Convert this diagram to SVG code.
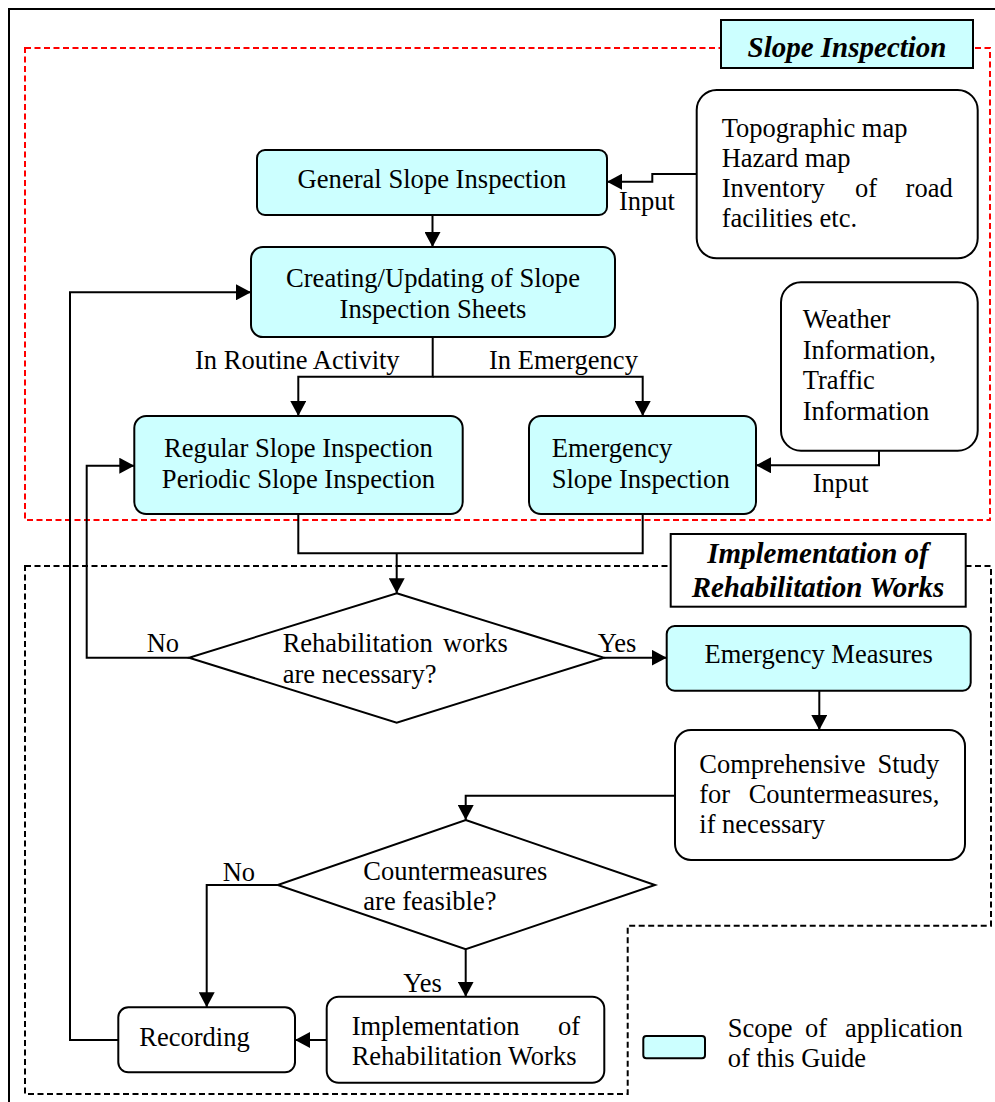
<svg xmlns="http://www.w3.org/2000/svg" width="995" height="1102" viewBox="0 0 995 1102">
<style>
text{font-family:"Liberation Serif","Times New Roman",serif;fill:#000}
.b{font-size:26.6px}
.m{font-size:26.5px}
.l{font-size:26.5px}
.h{font-size:29px;font-weight:bold;font-style:italic}
.c{fill:#ccffff;stroke:#000;stroke-width:2}
.w{fill:#fff;stroke:#000;stroke-width:2}
.k{fill:none;stroke:#000;stroke-width:2}
.a{marker-end:url(#ar)}
</style>
<defs>
<marker id="ar" markerUnits="userSpaceOnUse" markerWidth="16" markerHeight="16" refX="15" refY="8" orient="auto">
<path d="M0,0 L15,8 L0,16 z" fill="#000"/>
</marker>
</defs>
<rect width="995" height="1102" fill="#fff"/>
<path d="M9,1102 V9 H995" fill="none" stroke="#000" stroke-width="2"/>
<g id="region-slope-inspection">
<rect x="25" y="48" width="965" height="472" fill="none" stroke="#ff0000" stroke-width="2" stroke-dasharray="6,3.5"/>
<rect x="721" y="20" width="252" height="48" class="c"/>
<text class="h" x="847" y="57" text-anchor="middle">Slope Inspection</text>
</g>
<g id="region-rehabilitation">
<path d="M25,566 H991 V925.7 H627.7 V1094 H25 Z" fill="none" stroke="#000" stroke-width="2" stroke-dasharray="6,3.5"/>
<rect x="670.7" y="534" width="295" height="72.7" class="w"/>
<text class="h" x="818" y="563.3" text-anchor="middle">Implementation of</text>
<text class="h" x="818" y="596.7" text-anchor="middle">Rehabilitation Works</text>
</g>
<g id="connectors">
<path class="k a" d="M696.7,174 H652.3 V181.7 H607"/>
<path class="k a" d="M432.5,215 V247"/>
<path class="k a" d="M432.7,337 V376.7 H298.3 V416"/>
<path class="k a" d="M432.7,376.7 H642.7 V416"/>
<path class="k a" d="M879,450.7 V465.3 H756"/>
<path class="k" d="M298.3,514 V553.3 H642.7 V514"/>
<path class="k a" d="M396.7,553.3 V593.3"/>
<path class="k a" d="M189,657.7 H86.7 V465.7 H134.3"/>
<path class="k a" d="M604,657.7 H666.7"/>
<path class="k a" d="M819.3,690.7 V730"/>
<path class="k a" d="M675,795.7 H465.7 V820"/>
<path class="k a" d="M277.7,885 H206.7 V1007.3"/>
<path class="k a" d="M465.7,949.3 V996.7"/>
<path class="k a" d="M326.7,1040 H295"/>
<path class="k a" d="M118.3,1040 H70 V292.3 H251"/>
<text class="l" x="619" y="210">Input</text>
<text class="l" x="195" y="369">In Routine Activity</text>
<text class="l" x="489" y="369">In Emergency</text>
<text class="l" x="812.7" y="492.3">Input</text>
<text class="l" x="146.7" y="652.3">No</text>
<text class="l" x="597.7" y="651.7">Yes</text>
<text class="l" x="222.7" y="881">No</text>
<text class="l" x="403.3" y="991.7">Yes</text>
</g>
<g id="node-general">
<rect x="257" y="150" width="350" height="65" rx="8" class="c"/>
<text class="b" x="432" y="188" text-anchor="middle">General Slope Inspection</text>
</g>
<g id="node-input1">
<rect x="696.7" y="90" width="281" height="168.3" rx="20" class="w"/>
<text class="m" x="721.7" y="136.7">Topographic map</text>
<text class="m" x="721.7" y="166.7">Hazard map</text>
<text class="m" y="196.7"><tspan x="721.7">Inventory</tspan><tspan x="855">of</tspan><tspan x="905.6">road</tspan></text>
<text class="m" x="721.7" y="226.7">facilities etc.</text>
</g>
<g id="node-creating">
<rect x="251" y="247" width="364" height="90" rx="12" class="c"/>
<text class="b" x="433" y="286.7" text-anchor="middle">Creating/Updating of Slope</text>
<text class="b" x="433" y="317.7" text-anchor="middle">Inspection Sheets</text>
</g>
<g id="node-weather">
<rect x="781" y="282.3" width="196.7" height="168.4" rx="20" class="w"/>
<text class="m" x="802.7" y="328.3">Weather</text>
<text class="m" x="802.7" y="359">Information,</text>
<text class="m" x="802.7" y="389.3">Traffic</text>
<text class="m" x="802.7" y="420">Information</text>
</g>
<g id="node-regular">
<rect x="134.3" y="416" width="328.4" height="98" rx="12" class="c"/>
<text class="b" x="298.5" y="456.7" text-anchor="middle">Regular Slope Inspection</text>
<text class="b" x="298.5" y="487.7" text-anchor="middle">Periodic Slope Inspection</text>
</g>
<g id="node-emergency">
<rect x="529" y="416" width="227" height="98" rx="12" class="c"/>
<text class="b" x="551.7" y="456.7">Emergency</text>
<text class="b" x="551.7" y="487.7">Slope Inspection</text>
</g>
<g id="node-decision1">
<polygon points="396.7,593.3 604,657.7 396.7,722.7 189,657.7" class="w"/>
<text class="m" y="652.3"><tspan x="282.7">Rehabilitation</tspan><tspan x="443">works</tspan></text>
<text class="m" x="282.7" y="683.3">are necessary?</text>
</g>
<g id="node-emergency-measures">
<rect x="666.7" y="626" width="304" height="64.7" rx="8" class="c"/>
<text class="m" x="818.7" y="663.3" text-anchor="middle">Emergency Measures</text>
</g>
<g id="node-comprehensive">
<rect x="675" y="730" width="290" height="130" rx="16" class="w"/>
<text class="m" y="772.7"><tspan x="699.3">Comprehensive</tspan><tspan x="877.4">Study</tspan></text>
<text class="m" y="802.7"><tspan x="699.3">for</tspan><tspan x="748.7">Countermeasures,</tspan></text>
<text class="m" x="699.3" y="832.7">if necessary</text>
</g>
<g id="node-decision2">
<polygon points="465.7,820 655,885 465.7,949.3 277.7,885" class="w"/>
<text class="m" x="363.3" y="880">Countermeasures</text>
<text class="m" x="363.3" y="910">are feasible?</text>
</g>
<g id="node-recording">
<rect x="118.3" y="1007.3" width="176.7" height="65" rx="10" class="w"/>
<text class="m" x="139.3" y="1045.7">Recording</text>
</g>
<g id="node-implementation">
<rect x="326.7" y="996.7" width="277.6" height="86" rx="12" class="w"/>
<text class="m" y="1035"><tspan x="351.7">Implementation</tspan><tspan x="558">of</tspan></text>
<text class="m" x="351.7" y="1065">Rehabilitation Works</text>
</g>
<g id="legend">
<rect x="643.3" y="1036" width="61.7" height="22.3" rx="3" class="c"/>
<text class="m" y="1036.7"><tspan x="727.7">Scope</tspan><tspan x="805">of</tspan><tspan x="845">application</tspan></text>
<text class="m" x="727.7" y="1066.7">of this Guide</text>
</g>
</svg>
